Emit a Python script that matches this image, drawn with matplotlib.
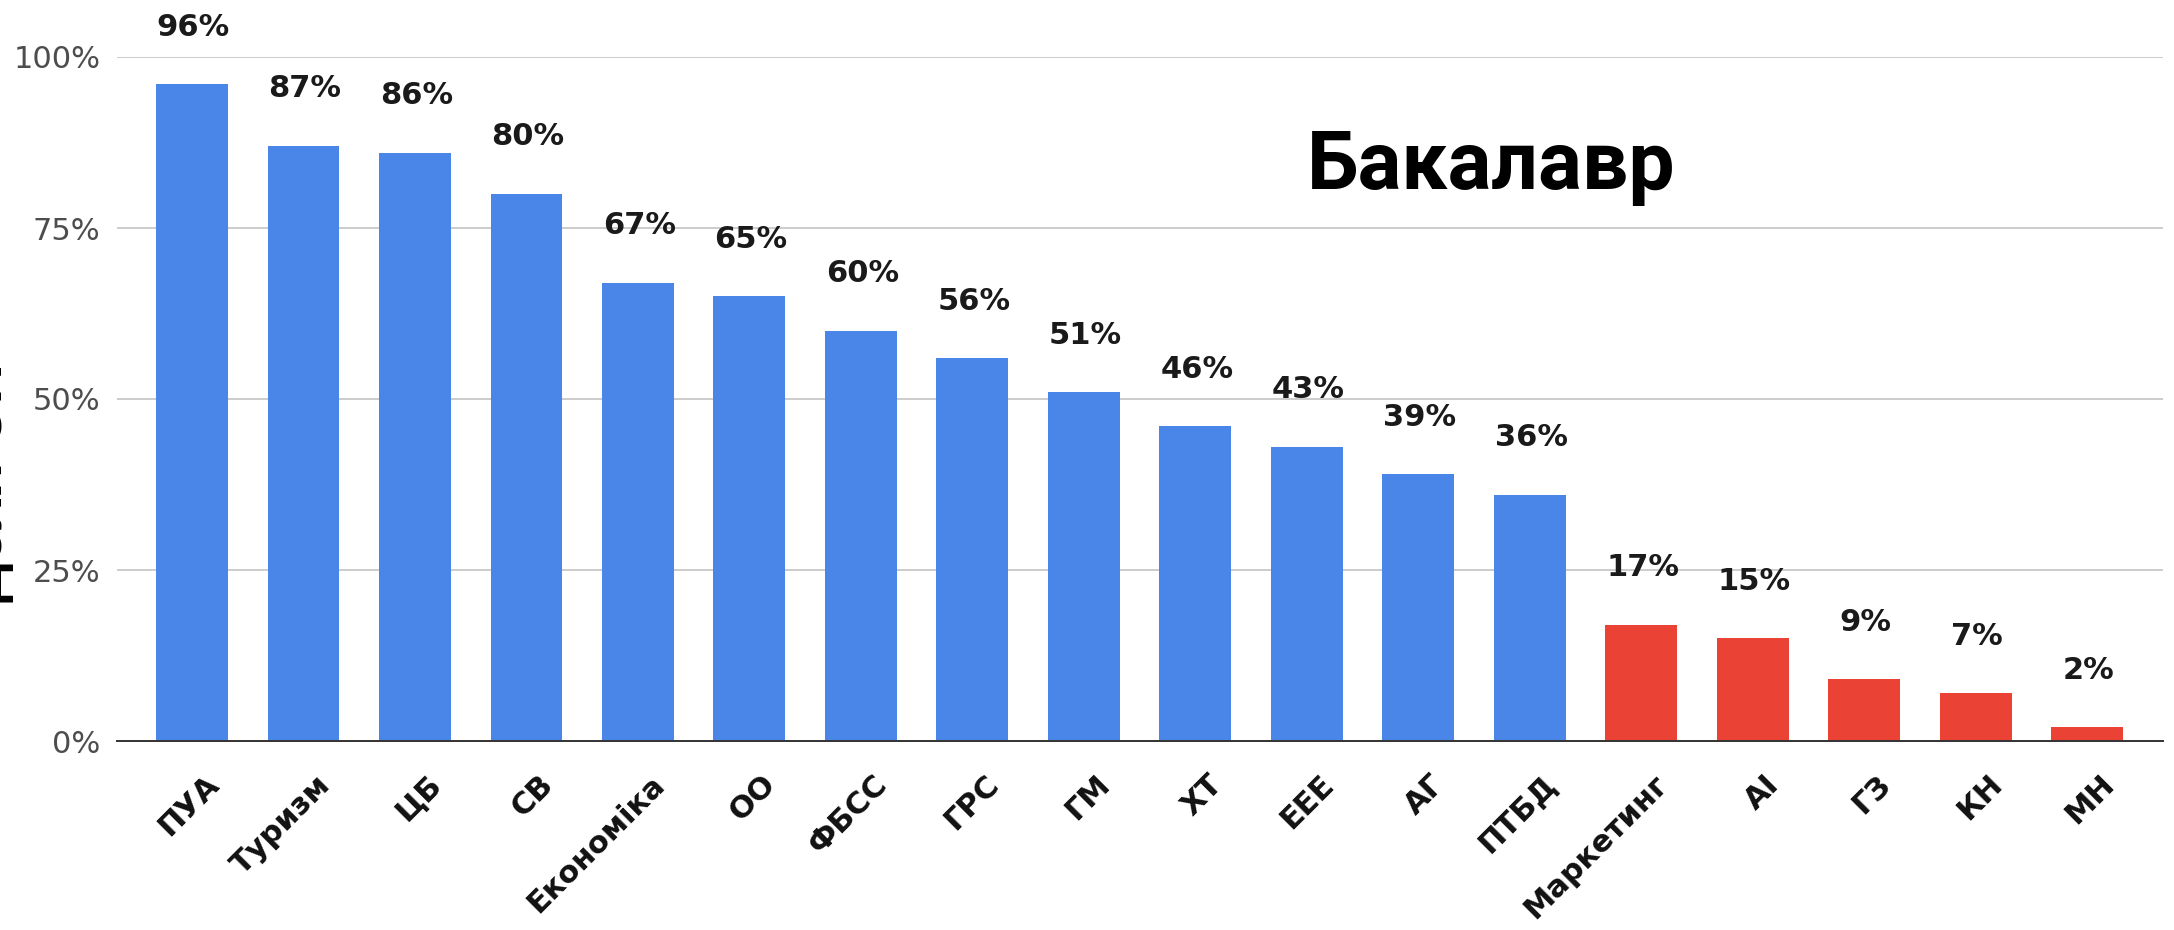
import matplotlib
matplotlib.use("Agg")
import matplotlib.pyplot as plt
from matplotlib.transforms import ScaledTranslation

categories = ["ПУА", "Туризм", "ЦБ", "СВ", "Економіка", "ОО", "ФБСС", "ГРС", "ГМ",
              "ХТ", "ЕЕЕ", "АГ", "ПТБД", "Маркетинг", "АІ", "ГЗ", "КН", "МН"]
values = [96, 87, 86, 80, 67, 65, 60, 56, 51, 46, 43, 39, 36, 17, 15, 9, 7, 2]
groups = ["high"] * 13 + ["low"] * 5
yticks = [0, 25, 50, 75, 100]
ytick_labels = ["0%", "25%", "50%", "75%", "100%"]
title = "Бакалавр"
ylabel = "Доля ОП"

colors = {"high": "#4a86e8", "low": "#ea4335"}

W, H = 2174, 930
fig = plt.figure(figsize=(W / 100, H / 100), dpi=100)
ax = fig.add_axes([117 / W, (H - 741) / H, (2163 - 117) / W, (741 - 57) / H])

x = list(range(len(categories)))
ax.bar(x, values, width=0.645, color=[colors[g] for g in groups], zorder=3)

for xi, v in zip(x, values):
    ax.annotate(f"{v}%", (xi, v), xytext=(1, 41), textcoords="offset points",
                ha="center", va="center", fontsize=22, fontweight="bold",
                family="DejaVu Sans", color="#1a1a1a")

ax.set_xlim(-0.673, 17.68)
ax.set_ylim(0, 100)
ax.set_yticks(yticks)
ax.set_yticklabels(ytick_labels, fontsize=22, family="DejaVu Sans", color="#4d4d4d")
ax.yaxis.grid(True, color="#cccccc", linewidth=1.4, zorder=0)
ax.tick_params(axis="y", length=0, pad=12)
for s in ["top", "right", "left"]:
    ax.spines[s].set_visible(False)
ax.spines["bottom"].set_color("#333333")
ax.spines["bottom"].set_linewidth(1.4)
ax.spines["bottom"].set_zorder(4)

ax.set_xticks(x)
ax.set_xticklabels(categories, rotation=45, ha="right", va="center",
                   rotation_mode="anchor", fontsize=22, fontweight="bold",
                   family="DejaVu Sans", color="#111111")
ax.tick_params(axis="x", length=0, pad=28)
offset = ScaledTranslation(0.22, 0, fig.dpi_scale_trans)
for lbl in ax.get_xticklabels():
    lbl.set_transform(lbl.get_transform() + offset)

fig.text(1491 / W, 1 - 189 / H, title, ha="center", va="baseline",
         fontsize=59, fontweight="bold", family="Roboto", color="black")

fig.text(14 / W, 1 - 483 / H, ylabel, rotation=90, ha="right", va="center",
         fontsize=40, fontweight="bold", family="Liberation Sans", color="black")

fig.savefig("out.png", dpi=100, facecolor="white")
